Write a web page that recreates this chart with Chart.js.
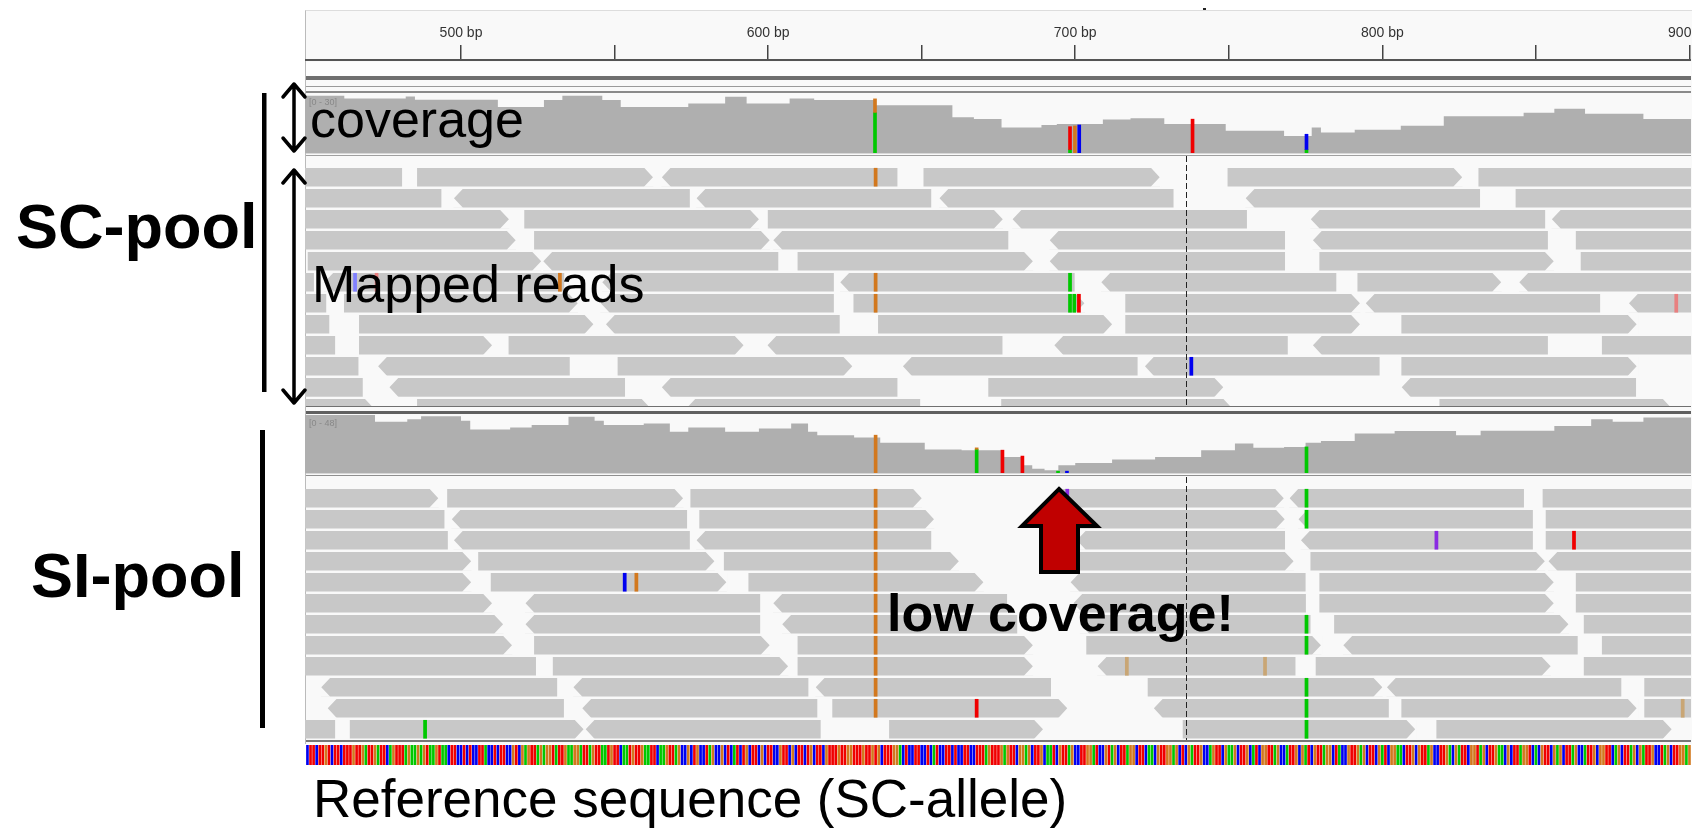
<!DOCTYPE html>
<html>
<head>
<meta charset="utf-8">
<title>SC-pool vs SI-pool read coverage</title>
<script src="https://cdn.jsdelivr.net/npm/chart.js@4.4.1/dist/chart.umd.min.js"></script>
<style>
  body { margin: 0; width: 1693px; height: 830px; background: #fff; position: relative; overflow: hidden;
         font-family: "Liberation Sans", Arial, sans-serif; }
  canvas, .box, .lbl, svg { position: absolute; }
  .lbl { white-space: nowrap; line-height: 1; color: #000; }
  .range { font-size: 9px; color: #888; }
</style>
</head>
<body>
<!-- IGV panel background and separators -->
<div class="box" style="left:305px;top:10px;width:1386px;height:733px;background:#f9f9f9;border-left:1px solid #bbb;border-top:1px solid #ddd;"></div>
<div class="box" style="left:306px;top:62px;width:1385px;height:14px;background:#fdfdfd;"></div>
<div class="box" style="left:306px;top:76px;width:1385px;height:4px;background:#6e6e6e;"></div>
<div class="box" style="left:306px;top:86px;width:1385px;height:1px;background:#9a9a9a;"></div>
<div class="box" style="left:306px;top:91px;width:1385px;height:2px;background:#8a8a8a;"></div>
<div class="box" style="left:306px;top:153px;width:1385px;height:1px;background:#d8d8d8;"></div>
<div class="box" style="left:306px;top:155px;width:1385px;height:1px;background:#a0a0a0;"></div>
<div class="box" style="left:306px;top:406px;width:1385px;height:1px;background:#707070;"></div>
<div class="box" style="left:306px;top:411px;width:1385px;height:3px;background:#606060;"></div>
<div class="box" style="left:306px;top:473px;width:1385px;height:1px;background:#d8d8d8;"></div>
<div class="box" style="left:306px;top:475px;width:1385px;height:1px;background:#909090;"></div>
<div class="box" style="left:306px;top:740px;width:1385px;height:2px;background:#777;"></div>
<div class="box" style="left:1203px;top:8px;width:3px;height:2px;background:#222;"></div>

<canvas id="ruler" width="1386" height="84" style="left:305px;top:21px;"></canvas>
<canvas id="covSC" width="1386" height="58" style="left:305px;top:95px;"></canvas>
<canvas id="readsSC" width="1386" height="250" style="left:305px;top:156px;"></canvas>
<canvas id="covSI" width="1386" height="58" style="left:305px;top:415px;"></canvas>
<canvas id="readsSI" width="1386" height="263" style="left:305px;top:477px;"></canvas>
<canvas id="refTrack" width="1386" height="20" style="left:305px;top:745px;"></canvas>

<div class="lbl range" style="left:309px;top:98px;">[0 - 30]</div>
<div class="lbl range" style="left:309px;top:419px;">[0 - 48]</div>

<svg width="1693" height="830" style="left:0;top:0;pointer-events:none">
  <rect x="262" y="93" width="4.5" height="299" fill="#000"/>
  <rect x="260" y="430" width="5" height="298" fill="#000"/>
  <g stroke="#000" stroke-width="3.5" fill="none" stroke-linecap="round" stroke-linejoin="round">
    <path d="M294 84 V151 M283 97 L294 84 L305 97 M283 138 L294 151 L305 138"/>
    <path d="M294 170 V403 M283 183 L294 170 L305 183 M283 390 L294 403 L305 390"/>
  </g>
  <polygon points="1059,489 1097,526 1078,526 1078,572 1041,572 1041,526 1022,526"
           fill="#c00000" stroke="#000" stroke-width="4" stroke-linejoin="miter"/>
</svg>

<div class="lbl" style="left:16px;top:195px;font-size:63px;font-weight:bold;">SC-pool</div>
<div class="lbl" style="left:31px;top:544px;font-size:63px;font-weight:bold;">SI-pool</div>
<div class="lbl" style="left:310px;top:93px;font-size:52px;">coverage</div>
<div class="lbl" style="left:312px;top:258px;font-size:52px;">Mapped reads</div>
<div class="lbl" style="left:887px;top:587px;font-size:52px;font-weight:bold;">low coverage!</div>
<div class="lbl" style="left:313px;top:772px;font-size:53px;">Reference sequence (SC-allele)</div>

<script>
// visible window of the genome browser (bp)
const bpMin = 449.2;
const bpMax = 900.5;
const rulerTicks = [500, 550, 600, 650, 700, 750, 800, 850, 900];
const centerBp = 736.2;

// coverage tracks: bin start (bp) and depth
const covScPos = [449, 462, 482, 485, 512, 527, 533, 546, 552, 574, 586, 593, 607, 615, 635, 660, 667, 676,
  689, 694, 709, 718, 729, 749, 768, 777, 780, 791, 806, 820, 846, 856, 866, 885, 894, 901];
const covScDepth = [29, 29.6, 28.2, 29.2, 27.5, 23.8, 27.4, 29.6, 27.4, 23.8, 25.6, 29.1, 25.6, 28.2, 27.4, 24.7, 18.5, 17.6,
  13.2, 14.5, 15, 17.3, 18, 15, 11.5, 8.8, 13.2, 10.6, 12, 14.1, 19, 20.8, 22.9, 20.3, 17.6, 17.6];
const covSiPos = [449, 472, 482.5, 487, 500, 503, 516, 523, 535, 543.5, 546.5, 559.5, 568, 574, 586, 597, 607.5, 613,
  616, 628, 636.5, 651, 663, 676, 683, 686, 690, 694.5, 700, 712, 726, 741, 752, 758, 768, 775, 780, 791, 804,
  824, 832, 856, 868, 875, 885, 892, 901];
const covSiDepth = [43.8, 48, 42.4, 44.4, 47, 43.3, 36, 37.7, 39.7, 46.6, 43.3, 39.7, 41, 34.1, 37.7, 34.1, 36.9, 41,
  34.1, 31.3, 29.4, 25, 19.4, 18.9, 13.3, 6.4, 3.6, 2.2, 6.4, 8.3, 11.1, 13.3, 18.9, 24.4, 20.8, 21.6, 25, 26.4, 32.7,
  34.7, 31.3, 35, 38.8, 44.4, 42.4, 46, 46];

// allele bars in coverage: [bp, from, to, base]
const covScAlleles = [[634.8, 0, 21, 'A'], [634.8, 21, 28, 'G'], [698.3, 0, 1.8, 'A'], [698.3, 1.8, 13.6, 'T'],
  [699.9, 0, 14, 'G'], [701.3, 0, 14.5, 'C'], [738.2, 0, 17.5, 'T'], [775.3, 0, 1.8, 'A'], [775.3, 1.8, 9.7, 'C']];
const covSiAlleles = [[635, 0, 31.3, 'G'], [667.9, 0, 19.6, 'A'], [667.9, 19.6, 20.8, 'G'], [676.3, 0, 18.9, 'T'],
  [682.8, 0, 14, 'T'], [694.4, 0, 1.5, 'A'], [697.3, 0, 1.5, 'C'], [775.3, 0, 21.6, 'A']];

// reads: [row, start, end, strand]
const scReads = [
  [0, 440, 480.7, -1], [0, 485.8, 562.5, 1], [0, 565.4, 642, -1], [0, 650.7, 727.5, 1], [0, 749.7, 826, 1], [0, 831.4, 910, 1],
  [1, 440, 493.5, -1], [1, 497.7, 574.4, -1], [1, 576.7, 653, -1], [1, 655.8, 731.9, -1], [1, 755.5, 831.7, -1], [1, 843.5, 910, 1],
  [2, 440, 515.6, 1], [2, 520.7, 597, 1], [2, 600, 676.4, 1], [2, 679.6, 755.8, -1], [2, 776.7, 852.9, -1], [2, 855.2, 910, -1],
  [3, 440, 517.8, 1], [3, 523.9, 600.5, 1], [3, 601.7, 678.1, -1], [3, 691.7, 768.2, -1], [3, 777.4, 853.8, -1], [3, 863.1, 910, 1],
  [4, 450.2, 526.1, 1], [4, 526.8, 603.2, -1], [4, 609.7, 686.2, 1], [4, 691.7, 768.2, -1], [4, 779.6, 855.8, 1], [4, 864.7, 910, 1],
  [5, 440, 452, -1], [5, 455.5, 533.5, -1], [5, 546, 621.3, -1], [5, 623.5, 699.7, -1], [5, 708.5, 784.9, -1], [5, 792, 838.7, 1], [5, 844.6, 910, -1],
  [6, 440, 456, -1], [6, 462, 538, 1], [6, 545.5, 621.3, -1], [6, 627.9, 703, 1], [6, 716.4, 792.7, 1], [6, 794.6, 870.8, -1], [6, 880.3, 910, -1],
  [7, 440, 457, -1], [7, 466.9, 543.1, 1], [7, 547.2, 623.2, -1], [7, 635.9, 712, 1], [7, 716.4, 792.7, 1], [7, 806.3, 882.8, 1],
  [8, 440, 458.9, -1], [8, 466.9, 510.1, 1], [8, 515.6, 592, 1], [8, 599.8, 676.2, -1], [8, 693.2, 769.1, -1], [8, 777.4, 853.8, -1], [8, 871.6, 910, 1],
  [9, 440, 466.5, -1], [9, 473, 535.3, -1], [9, 551.1, 627.4, 1], [9, 643.9, 720.2, -1], [9, 722.7, 799, -1], [9, 806.3, 882.8, 1],
  [10, 440, 467.9, -1], [10, 476.7, 553.3, -1], [10, 565.4, 642, -1], [10, 671.8, 748.2, 1], [10, 806.3, 882.5, -1],
  [11, 440, 471.6, 1], [11, 485.8, 561.7, 1], [11, 573.4, 649.4, -1], [11, 676, 751.1, 1], [11, 818.7, 894.2, 1]
];
const siReads = [
  [0, 440, 492.6, 1], [0, 495.6, 572.3, 1], [0, 574.8, 650, 1], [0, 696, 767.9, 1], [0, 769.8, 846, -1], [0, 852.3, 910, 1],
  [1, 440, 494.5, -1], [1, 497, 573.5, -1], [1, 577.7, 654, 1], [1, 701, 768.2, 1], [1, 772.7, 848.9, -1], [1, 853.3, 910, 1],
  [2, 440, 495.6, -1], [2, 497.7, 574.4, -1], [2, 576.7, 653, -1], [2, 700.5, 768.2, -1], [2, 773.5, 848.9, -1], [2, 853.3, 910, 1],
  [3, 440, 503.3, 1], [3, 505.7, 582.5, 1], [3, 585.7, 662.1, 1], [3, 701.5, 771.1, 1], [3, 776.7, 852.9, 1], [3, 854.1, 910, -1],
  [4, 440, 503.3, 1], [4, 509.8, 586.4, 1], [4, 593.7, 670.1, 1], [4, 698.5, 774.9, -1], [4, 779.6, 855.8, 1], [4, 863.1, 910, 1],
  [5, 440, 510.1, 1], [5, 521, 597.3, -1], [5, 601.7, 677.7, -1], [5, 699.4, 775, -1], [5, 779.6, 855.8, 1], [5, 863.1, 910, 1],
  [6, 440, 513.7, 1], [6, 521, 597.3, -1], [6, 604.6, 681, -1], [6, 701.6, 776.5, -1], [6, 784.4, 860.6, 1], [6, 865.7, 910, 1],
  [7, 440, 516.6, 1], [7, 523.9, 600.5, 1], [7, 609.7, 686.2, 1], [7, 703.7, 780, 1], [7, 787.3, 863.5, -1], [7, 871.6, 910, 1],
  [8, 440, 524.3, -1], [8, 530, 606.5, 1], [8, 609.7, 686.2, 1], [8, 707.3, 771.6, -1], [8, 778.4, 854.8, 1], [8, 865.7, 910, 1],
  [9, 454.5, 531.2, -1], [9, 536.6, 613, -1], [9, 615.5, 692, -1], [9, 723.7, 800, 1], [9, 801.5, 877.7, -1], [9, 885.4, 910, 1],
  [10, 456.6, 533.4, -1], [10, 539.5, 615.9, -1], [10, 621, 697.4, 1], [10, 725.6, 802, -1], [10, 806.3, 882.8, 1], [10, 885.4, 910, 1],
  [11, 440, 458.9, -1], [11, 463.9, 539.9, 1], [11, 540.6, 617, -1], [11, 639.5, 689.5, 1], [11, 735.1, 810.7, 1], [11, 817.7, 894.2, 1]
];

// mismatched bases inside reads: [row, bp, base]  (lower case = low quality)
const scMismatch = [[0, 635, 'G'], [5, 635, 'G'], [6, 635, 'G'], [5, 465.5, 'c'], [5, 472.5, 't'], [5, 532.2, 'G'],
  [5, 698.3, 'A'], [6, 698.3, 'A'], [6, 699.7, 'A'], [6, 701.2, 'T'], [9, 737.8, 'C'], [6, 895.7, 't']];
const siMismatch = [[0, 635, 'G'], [1, 635, 'G'], [2, 635, 'G'], [3, 635, 'G'], [4, 635, 'G'], [5, 635, 'G'],
  [6, 635, 'G'], [7, 635, 'G'], [8, 635, 'G'], [9, 635, 'G'], [10, 635, 'G'],
  [0, 775.3, 'A'], [1, 775.3, 'A'], [6, 775.3, 'A'], [7, 775.3, 'A'], [9, 775.3, 'A'], [10, 775.3, 'A'], [11, 775.3, 'A'],
  [4, 553.3, 'C'], [4, 557.1, 'G'], [8, 716.8, 'g'], [8, 761.8, 'g'], [10, 667.9, 'T'], [11, 488.3, 'A'],
  [2, 817.6, 'I'], [2, 862.4, 'T'], [10, 897.8, 'g'], [0, 697.4, 'I']];

// reference sequence shown at the bottom, first base at refStart
const refStart = 450;
const refSeq = 'CTTCTTGTCTTCTTTGTTGATTGATTCAGTTTAGAAGAGTAAGTAACTTCCTCTCCTTACCTCTTCCGTC' +
  'GAGTTAGAGGTATTGAAGGATTAGTTAATGTTCAATGTTGAATTCAAGTTAGCCGCTGCCTAGCCGCTCA' +
  'TCTGCTTCGCTTCCGTTCGCTTCTGCTTCGTTTGTTGGTTTGTTGTGCTTTGGACTCCTTCCTCATCCTTCTCCTTCCT' +
  'TTAGTTTGAGTTCGGAGCTTGCAATCGTTAGCCTTGGATCCGTAGCTTAGGCTTCAACGTTGGAGCTCGATTGCCAGT' +
  'TCGAAGCTTGCATCGGTTAGCCATTGCGATCGTTAGGCTACCGTTGAGCTTCGATCGGAACTTGCGTTAGCCTTGACGAT' +
  'TCGGTAGCTTGAACGCTTAGGTCACGTTCGAGCTTAGCCATTGCGGTTCAGCTTAGCGATTGCCTAGCTTGGAGG';

const baseColors = { A: '#00c800', C: '#0000f0', G: '#d2781e', T: '#f00000', I: '#8a2be2',
  a: '#80e080', c: '#8080ff', g: '#c9a675', t: '#e88080' };
const panelBg = '#f9f9f9';
const readGray = '#c8c8c8';
const readH = 18;
const tipW = 9;

function baseOptions() {
  return {
    responsive: false, animation: false, events: [],
    layout: { padding: 0 },
    plugins: { legend: { display: false }, tooltip: { enabled: false } }
  };
}
function xScale() {
  return { type: 'linear', min: bpMin, max: bpMax, display: false, offset: false };
}

// --- Ruler --- //
new Chart(document.getElementById('ruler'), {
  type: 'scatter',
  data: { datasets: [] },
  options: Object.assign(baseOptions(), {
    scales: {
      x: {
        type: 'linear', position: 'top', min: bpMin, max: bpMax, offset: false,
        afterBuildTicks: s => { s.ticks = rulerTicks.map(v => ({ value: v })); },
        afterFit: s => { s.paddingLeft = 0; s.paddingRight = 0; },
        ticks: {
          autoSkip: false, maxRotation: 0, padding: 3.6, color: '#333',
          font: { family: 'Liberation Sans', size: 14 },
          callback: v => (v % 100 === 0 ? v + ' bp' : '')
        },
        grid: { drawOnChartArea: false, tickLength: 15, color: '#444', lineWidth: 1.5 },
        border: { color: '#555', width: 2 }
      },
      y: { display: false, min: 0, max: 1 }
    }
  })
});

// --- Coverage tracks --- //
function coverageChart(id, pos, depth, alleles, maxDepth) {
  return new Chart(document.getElementById(id), {
    type: 'line',
    data: {
      datasets: [
        {
          type: 'bar',
          data: alleles.map(a => ({ x: a[0], y: [a[1], a[2]] })),
          backgroundColor: alleles.map(a => baseColors[a[3]]),
          barThickness: 3, grouped: false
        },
        {
          data: pos.map((p, i) => ({ x: p, y: depth[i] })),
          stepped: 'after', fill: 'origin',
          backgroundColor: '#afafaf', borderColor: 'rgba(0,0,0,0)', borderWidth: 0, pointRadius: 0
        }
      ]
    },
    options: Object.assign(baseOptions(), {
      scales: { x: xScale(), y: { display: false, min: 0, max: maxDepth, offset: false } }
    })
  });
}

// cut the pointed end of each read (strand arrow)
function readTips(reads) {
  return {
    id: 'readTips',
    afterDatasetDraw(chart, args) {
      if (args.index !== 1) return;
      const { ctx, chartArea: a, scales: { x, y } } = chart;
      const h = readH / 2 + 0.6;
      ctx.save();
      ctx.beginPath();
      ctx.rect(a.left, a.top, a.width, a.height);
      ctx.clip();
      ctx.fillStyle = panelBg;
      reads.forEach(r => {
        const fwd = r[3] > 0;
        const s = fwd ? 1 : -1;
        const cy = y.getPixelForValue(r[0]);
        const tip = x.getPixelForValue(fwd ? r[2] : r[1]);
        ctx.beginPath();
        ctx.moveTo(tip - s * tipW, cy - h);
        ctx.lineTo(tip + s * 1.5, cy - h);
        ctx.lineTo(tip + s * 1.5, cy + h);
        ctx.lineTo(tip - s * tipW, cy + h);
        ctx.lineTo(tip, cy);
        ctx.closePath();
        ctx.fill();
      });
      ctx.restore();
    }
  };
}

// dashed centre line of the browser window
function centerLine() {
  return {
    id: 'centerLine',
    afterDatasetsDraw(chart) {
      const { ctx, chartArea: a, scales: { x } } = chart;
      const px = Math.round(x.getPixelForValue(centerBp)) + 0.5;
      ctx.save();
      ctx.strokeStyle = '#222';
      ctx.lineWidth = 1;
      ctx.setLineDash([6, 3]);
      ctx.beginPath();
      ctx.moveTo(px, a.top);
      ctx.lineTo(px, a.bottom);
      ctx.stroke();
      ctx.restore();
    }
  };
}

// --- Read alignments --- //
function readsChart(id, reads, marks, yMin, yMax) {
  return new Chart(document.getElementById(id), {
    type: 'bar',
    data: {
      datasets: [
        {
          data: marks.map(m => ({ x: [m[1] - 0.5, m[1] + 0.5], y: m[0] })),
          backgroundColor: marks.map(m => baseColors[m[2]]),
          barThickness: readH, grouped: false
        },
        {
          data: reads.map(r => ({ x: [r[1], r[2]], y: r[0] })),
          backgroundColor: readGray,
          barThickness: readH, grouped: false
        }
      ]
    },
    options: Object.assign(baseOptions(), {
      indexAxis: 'y',
      scales: {
        x: xScale(),
        y: { type: 'linear', display: false, reverse: true, min: yMin, max: yMax, offset: false }
      }
    }),
    plugins: [readTips(reads), centerLine()]
  });
}

coverageChart('covSC', covScPos, covScDepth, covScAlleles, 30);
coverageChart('covSI', covSiPos, covSiDepth, covSiAlleles, 48);
readsChart('readsSC', scReads, scMismatch, -1.01, 10.89);
readsChart('readsSI', siReads, siMismatch, -1.01, 11.51);

// --- Reference sequence --- //
const bases = refSeq.split('');
new Chart(document.getElementById('refTrack'), {
  type: 'bar',
  data: {
    datasets: [{
      data: bases.map((b, i) => ({ x: refStart + i, y: 1 })),
      backgroundColor: bases.map(b => baseColors[b]),
      barThickness: 2
    }]
  },
  options: Object.assign(baseOptions(), {
    scales: { x: xScale(), y: { display: false, min: 0, max: 1, offset: false } }
  })
});
</script>
</body>
</html>
